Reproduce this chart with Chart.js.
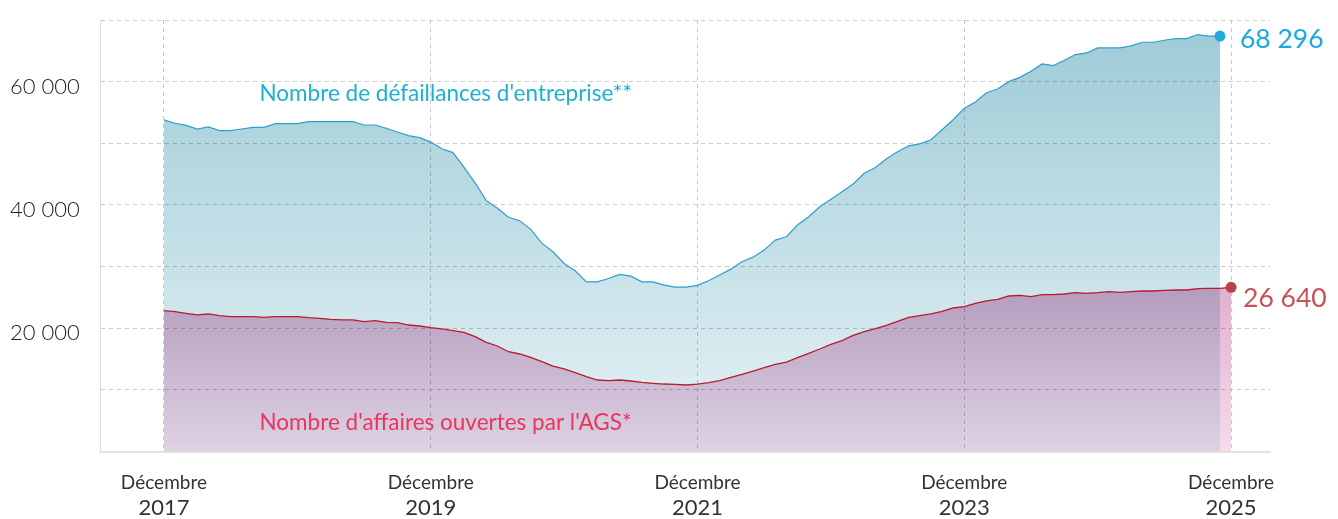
<!DOCTYPE html>
<html lang="fr">
<head>
<meta charset="utf-8">
<script src="https://cdn.jsdelivr.net/npm/chart.js@4.4.1/dist/chart.umd.min.js"></script>
<style>
  html, body { margin: 0; padding: 0; background: #fff; }
</style>
</head>
<body>
<canvas id="chart" width="1338" height="519"></canvas>
<script>
// mois comptés depuis décembre 2017 (0 = déc. 2017, 96 = déc. 2025)
let tickMonths = [0, 24, 48, 72, 96]
let tickMonthLabel = 'Décembre'
let tickYears = ['2017', '2019', '2021', '2023', '2025']

let yGridValues = [10000, 20000, 30000, 40000, 50000, 60000, 70000]
let yLabelValues = [20000, 40000, 60000]

// défaillances d'entreprise (cumul 12 mois), déc. 2017 -> nov. 2025
let defaillances = [
    53790, 53250, 52920, 52320, 52650, 52050, 52050, 52320, 52600, 52600, 53190, 53190,
    53190, 53510, 53510, 53510, 53510, 53510, 52970, 52970, 52440, 51840, 51240, 50910,
    50200, 49110, 48500, 46100, 43530, 40700, 39460, 38000, 37450, 36050, 33770, 32410,
    30520, 29320, 27530, 27530, 28080, 28730, 28460, 27530, 27530, 26990, 26670, 26670,
    26960, 27700, 28650, 29590, 30780, 31540, 32680, 34310, 34850, 36750, 38100, 39720,
    40920, 42160, 43410, 45150, 46070, 47480, 48620, 49590, 49920, 50570, 52190, 53820,
    55700, 56700, 58200, 58800, 60000, 60700, 61680, 62870, 62600, 63460, 64390, 64660,
    65470, 65470, 65470, 65800, 66390, 66390, 66720, 66990, 66990, 67640, 67370, 67400
]

// affaires ouvertes par l'AGS (cumul 12 mois), déc. 2017 -> déc. 2025
let affairesAGS = [
    22850, 22690, 22430, 22160, 22320, 22050, 21880, 21880, 21880, 21780, 21880, 21880,
    21880, 21720, 21620, 21460, 21350, 21350, 21070, 21240, 20970, 20910, 20530, 20370,
    20100, 19890, 19610, 19350, 18640, 17730, 17130, 16200, 15830, 15290, 14580, 13880,
    13400, 12800, 12150, 11610, 11500, 11610, 11450, 11240, 11080, 10960, 10910, 10800,
    10960, 11180, 11500, 12050, 12540, 13070, 13610, 14160, 14530, 15230, 15940, 16640,
    17400, 17990, 18850, 19450, 19940, 20490, 21130, 21780, 22050, 22320, 22760, 23290,
    23500, 24050, 24430, 24700, 25240, 25350, 25130, 25450, 25450, 25560, 25780, 25670,
    25780, 25940, 25840, 25940, 26050, 26050, 26160, 26210, 26210, 26420, 26480, 26480,
    26640
]

let defaillancesLabel = "Nombre de défaillances d'entreprise**"
let affairesLabel = "Nombre d'affaires ouvertes par l'AGS*"
let defaillancesLast = '68 296'
let affairesLast = '26 640'

let fontFamily = 'Lato, "Open Sans", sans-serif'

let formatNumber = (v) => String(v).replace(/\B(?=(\d{3})+(?!\d))/g, ' ')

let lastPointOnly = (radius) => (ctx) => ctx.dataIndex === ctx.dataset.data.length - 1 ? radius : 0

function blueFill(context) {
    let { ctx, chartArea } = context.chart
    if (!chartArea) return '#b4d8e1'
    let g = ctx.createLinearGradient(0, chartArea.top, 0, chartArea.bottom)
    g.addColorStop(0, '#9ccad6')
    g.addColorStop(1, '#e8f3f6')
    return g
}

function redFill(context) {
    let { ctx, chartArea, scales } = context.chart
    if (!chartArea) return '#e8c4da'
    let top = scales.y.getPixelForValue(27000)
    let g = ctx.createLinearGradient(0, top, 0, chartArea.bottom)
    g.addColorStop(0, '#e2afcf')
    g.addColorStop(1, '#f4dceb')
    return g
}

// les aires se superposent en "multiply" (rose x bleu = violet), les lignes restent normales
// le filler dessine l'aire dans son beforeDatasetDraw, qui passe avant celui-ci
const blending = {
    id: 'blending',
    beforeDatasetsDraw(chart) {
        chart.ctx.globalCompositeOperation = 'multiply'
    },
    beforeDatasetDraw(chart) {
        chart.ctx.globalCompositeOperation = 'source-over'
    },
    afterDatasetDraw(chart) {
        chart.ctx.globalCompositeOperation = 'multiply'
    },
    afterDatasetsDraw(chart) {
        chart.ctx.globalCompositeOperation = 'source-over'
    }
}

// textes posés sur le graphique
const annotations = {
    id: 'annotations',
    afterDatasetsDraw(chart) {
        let { ctx, scales: { x, y } } = chart
        ctx.save()
        ctx.globalCompositeOperation = 'source-over'
        ctx.textBaseline = 'middle'
        ctx.textAlign = 'left'

        ctx.font = `22.5px ${fontFamily}`
        ctx.fillStyle = '#1cb2cf'
        ctx.fillText(defaillancesLabel, x.getPixelForValue(8.6), y.getPixelForValue(58000))
        ctx.fillStyle = '#e8365d'
        ctx.fillText(affairesLabel, x.getPixelForValue(8.6), y.getPixelForValue(4640))

        let blue = chart.getDatasetMeta(0).data
        let red = chart.getDatasetMeta(1).data
        let pb = blue[blue.length - 1]
        let pr = red[red.length - 1]

        ctx.font = `26.5px ${fontFamily}`
        ctx.fillStyle = '#1ea7e0'
        ctx.fillText(defaillancesLast, pb.x + 20, pb.y + 3)
        ctx.fillStyle = '#c4545a'
        ctx.fillText(affairesLast, pr.x + 12, pr.y + 11)
        ctx.restore()
    }
}

const config = {
    type: 'line',
    data: {
        datasets: [{
            label: defaillancesLabel,
            data: defaillances.map((v, i) => ({ x: i, y: v })),
            borderColor: '#2c9fcf',
            borderWidth: 1.2,
            backgroundColor: blueFill,
            fill: 'origin',
            tension: 0,
            pointRadius: lastPointOnly(5.5),
            pointBackgroundColor: '#25a9df',
            pointBorderWidth: 0,
            order: 2
        }, {
            label: affairesLabel,
            data: affairesAGS.map((v, i) => ({ x: i, y: v })),
            borderColor: '#b81a2e',
            borderWidth: 1.3,
            backgroundColor: redFill,
            fill: 'origin',
            tension: 0,
            pointRadius: lastPointOnly(5.5),
            pointBackgroundColor: '#b8434b',
            pointBorderWidth: 0,
            order: 1
        }]
    },
    options: {
        responsive: false,
        animation: false,
        layout: { padding: { top: 20, left: 10, right: 68, bottom: 0 } },
        plugins: {
            legend: { display: false },
            tooltip: { enabled: false }
        },
        scales: {
            x: {
                type: 'linear',
                min: -5.75,
                max: 99.5,
                afterBuildTicks: (s) => { s.ticks = tickMonths.map(v => ({ value: v })) },
                afterFit: (s) => { s.height = 42 },
                ticks: {
                    autoSkip: false,
                    maxRotation: 0,
                    padding: 20,
                    color: '#333',
                    font: { family: fontFamily, size: 19 },
                    callback: () => tickMonthLabel
                },
                grid: { color: '#cacaca', lineWidth: 1, drawTicks: false },
                border: { color: '#e2e2e2', width: 2, dash: [4, 4] }
            },
            x2: {
                type: 'linear',
                position: 'bottom',
                min: -5.75,
                max: 99.5,
                afterBuildTicks: (s) => { s.ticks = tickMonths.map(v => ({ value: v })) },
                afterFit: (s) => { s.height = 25.4 },
                ticks: {
                    autoSkip: false,
                    maxRotation: 0,
                    padding: 1,
                    color: '#333',
                    font: { family: fontFamily, size: 22 },
                    callback: (v, i) => tickYears[i]
                },
                grid: { display: false, drawTicks: false },
                border: { display: false }
            },
            y: {
                min: 0,
                max: 70000,
                afterBuildTicks: (s) => { s.ticks = yGridValues.map(v => ({ value: v })) },
                afterFit: (s) => { s.width = 90 },
                ticks: {
                    crossAlign: 'far',
                    labelOffset: 5,
                    color: '#222',
                    font: { family: fontFamily, size: 22, weight: 300 },
                    callback: (v) => yLabelValues.includes(v) ? formatNumber(v) : ''
                },
                grid: { color: '#cacaca', lineWidth: 1, drawTicks: false },
                border: { color: '#dedede', width: 1, dash: [4, 4] }
            }
        }
    },
    plugins: [blending, annotations]
}

new Chart(document.getElementById('chart'), config)
</script>
</body>
</html>
